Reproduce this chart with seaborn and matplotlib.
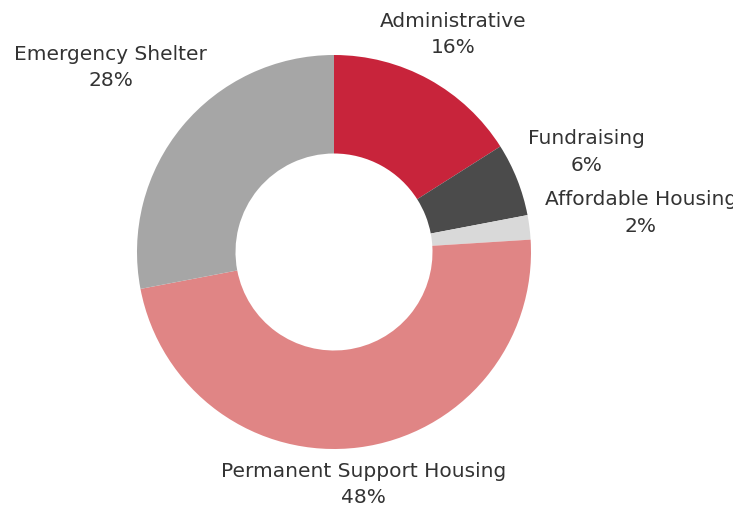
import numpy as np
import matplotlib
matplotlib.use("Agg")
import matplotlib.pyplot as plt
import seaborn as sns

categories = ["Administrative", "Fundraising", "Affordable Housing",
              "Permanent Support Housing", "Emergency Shelter"]
shares = [16, 6, 2, 48, 28]
colors = ["#C8243B", "#4B4B4B", "#D9D9D9", "#E08585", "#A6A6A6"]
# how far out each label sits, in units of the outer radius
label_dist = [1.26, 1.38, 1.57, 1.19, 1.47]

sns.set_style("white")
plt.rcParams["font.family"] = ["DejaVu Sans"]

fig = plt.figure(figsize=(7.33, 5.08), dpi=100)
ax = fig.add_axes([0, 0, 1, 1])

cx, cy, r = 334, 256, 197
wedges, _ = ax.pie(shares, colors=colors, startangle=90, counterclock=False,
                   center=(cx, cy), radius=r, frame=True,
                   wedgeprops=dict(width=r * 0.5, linewidth=0))
ax.set_xlim(0, 733)
ax.set_ylim(0, 508)
ax.set_aspect("equal")
ax.axis("off")

for w, name, val, d in zip(wedges, categories, shares, label_dist):
    ang = np.deg2rad((w.theta1 + w.theta2) / 2)
    x = cx + d * r * np.cos(ang)
    y = cy + d * r * np.sin(ang)
    ax.text(x, y, f"{name}\n{val}%", ha="center", va="center",
            multialignment="center", fontsize=14.5, color="#333333",
            linespacing=1.5)

fig.savefig("out.png", dpi=100)
